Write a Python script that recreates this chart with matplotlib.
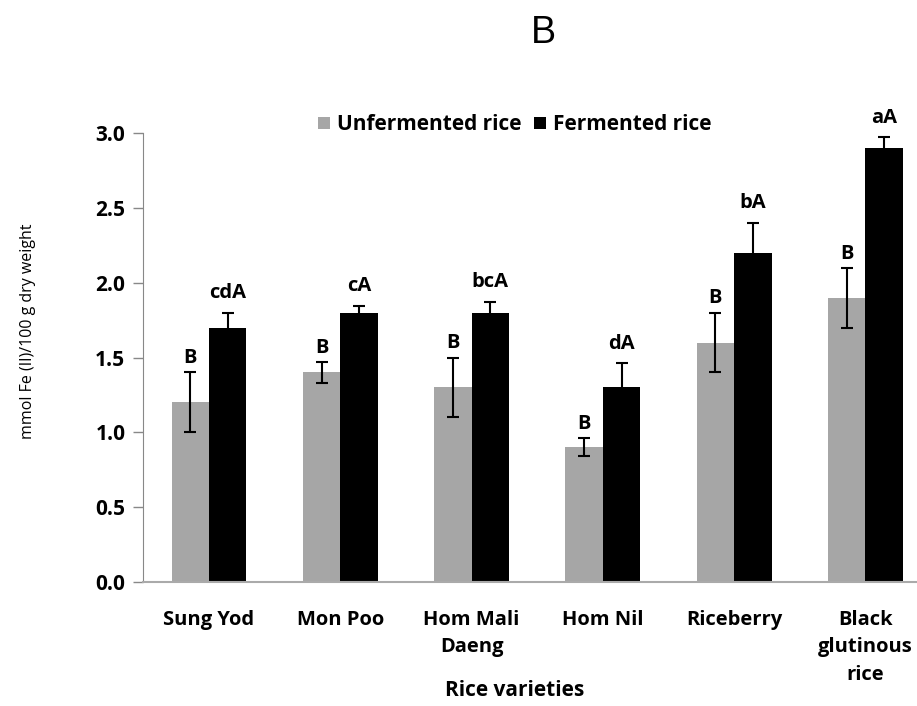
import matplotlib
matplotlib.use("Agg")
import matplotlib.pyplot as plt
import numpy as np

# rice varieties and FRAP values (mmol Fe(II)/100 g dry weight)
varieties = ["Sung Yod", "Mon Poo", "Hom Mali\nDaeng", "Hom Nil", "Riceberry", "Black\nglutinous\nrice"]
unfermented = [1.2, 1.4, 1.3, 0.9, 1.6, 1.9]
unfermented_err = [0.2, 0.07, 0.2, 0.06, 0.2, 0.2]
fermented = [1.7, 1.8, 1.8, 1.3, 2.2, 2.9]
fermented_err = [0.1, 0.045, 0.07, 0.16, 0.2, 0.07]
unf_letters = ["B", "B", "B", "B", "B", "B"]
fer_letters = ["cdA", "cA", "bcA", "dA", "bA", "aA"]

plt.rcParams['font.family'] = ['Open Sans', 'DejaVu Sans']

fig = plt.figure(figsize=(9.17, 7.06), dpi=100)
ax = fig.add_axes([143.4/917, 124/706, (931-143.4)/917, (582-133)/706])

x = np.arange(len(varieties))
w = 0.285
ax.bar(x - w/2, unfermented, w, color="#a6a6a6", label="Unfermented rice", zorder=2)
ax.bar(x + w/2, fermented, w, color="black", label="Fermented rice", zorder=2)
ax.errorbar(x - w/2, unfermented, yerr=unfermented_err, fmt="none", ecolor="black",
            elinewidth=1.5, capsize=4, capthick=1.5, zorder=3)
# lower half hidden behind the black bars
ax.errorbar(x + w/2, fermented, yerr=fermented_err, fmt="none",
            ecolor="black", elinewidth=1.5, capsize=4, capthick=1.5, zorder=1)

for i in range(len(x)):
    ax.annotate(unf_letters[i], (x[i] - w/2, unfermented[i] + unfermented_err[i]),
                xytext=(0, 3), textcoords="offset points", ha="center", va="bottom",
                fontsize=14.5, fontweight="bold", annotation_clip=False)
    ax.annotate(fer_letters[i], (x[i] + w/2, fermented[i] + fermented_err[i]),
                xytext=(0, 7), textcoords="offset points", ha="center", va="bottom",
                fontsize=14.5, fontweight="bold", annotation_clip=False)

ax.set_xlim(-0.5, 5.5)
ax.set_ylim(0, 3.0)
ax.set_yticks([0, 0.5, 1.0, 1.5, 2.0, 2.5, 3.0])
ax.set_yticklabels(["0.0", "0.5", "1.0", "1.5", "2.0", "2.5", "3.0"], fontsize=15, fontweight="bold")
ax.set_xticks(x)
ax.set_xticklabels(varieties, fontsize=14.5, fontweight="bold", linespacing=1.5, va="top")
ax.tick_params(axis="x", length=0, pad=20)
ax.tick_params(axis="y", length=7, color="#888888", width=1, pad=6)
for s in ["top", "right"]:
    ax.spines[s].set_visible(False)
ax.spines["left"].set_color("#888888")
ax.spines["bottom"].set_color("#aaaaaa")
ax.spines["bottom"].set_linewidth(1.5)

ax.set_ylabel("mmol Fe (II)/100 g dry weight", fontsize=11.5)
ax.yaxis.set_label_coords(-0.136, 0.559)
fig.text(515/917, 1 - 690/706, "Rice varieties", ha="center", va="center", fontsize=15, fontweight="bold")
fig.text(543/917, 1 - 33/706, "B", ha="center", va="center", fontsize=27, family="Liberation Sans")

ax.legend(loc="center", bbox_to_anchor=((515-143.4)/(931-143.4), 1 + (133-125)/449), ncol=2,
          frameon=False, prop={"size": 15, "weight": "bold"}, handlelength=0.55, handleheight=0.55,
          handletextpad=0.35, columnspacing=0.6)

fig.savefig("out.png", dpi=100)
